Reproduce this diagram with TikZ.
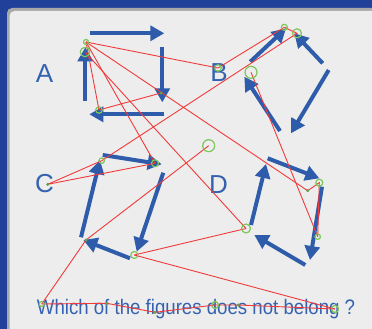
\documentclass[tikz,border=0pt]{standalone}
\usepackage{fontspec}
\setmainfont{Liberation Sans}
\usetikzlibrary{arrows.meta}
\definecolor{frameblue}{HTML}{20409A}
\definecolor{shadowgray}{HTML}{A8A8A8}
\definecolor{panelgray}{HTML}{EDEDED}
\definecolor{arrowblue}{HTML}{2E5CAA}
\definecolor{labelblue}{HTML}{3462B0}
\definecolor{linered}{HTML}{F23A3A}
\definecolor{ptgreen}{HTML}{7DC85A}
\tikzset{
  barrow/.style={draw=arrowblue, line width=4pt, -{Triangle[length=14pt,width=15pt]}},
  rline/.style={draw=linered, line width=0.9pt},
  gc/.style={circle, draw=ptgreen, line width=0.9pt, inner sep=0pt, minimum size=#1},
  gdot/.style={circle, fill=ptgreen!80!black, inner sep=0pt, minimum size=3pt},
  letter/.style={text=labelblue, font=\fontsize{26}{30}\selectfont, inner sep=0pt},
}
\begin{document}
\begin{tikzpicture}[x=1pt,y=-1pt]
\useasboundingbox (0,0) rectangle (372,329);
% frame
\fill[frameblue] (0,0) rectangle (372,329);
\fill[shadowgray, rounded corners=5pt] (7,8) rectangle (380,340);
\fill[panelgray, rounded corners=5pt] (9.5,11) rectangle (380,340);

% labels
\node[letter] (LA) at (44.5,74) {A};
\node[letter] (LB) at (219,72.5) {B};
\node[letter] (LC) at (44.5,184) {C};
\node[letter] (LD) at (218.5,185) {D};
\node[anchor=base west, text=labelblue, inner sep=0pt, font=\fontsize{21}{25}\selectfont] (Q) at (36.7,314.3)
  {\scalebox{0.888}[1]{Which of the figures does not belong ?}};

% arrow end points
\coordinate (A1s) at (89.7,33.3);  \coordinate (A1e) at (164.3,33.3);
\coordinate (A2s) at (162.3,46.7); \coordinate (A2e) at (162.3,102.3);
\coordinate (A3s) at (164.3,114.3);\coordinate (A3e) at (89.3,114.3);
\coordinate (A4s) at (85.3,100.7); \coordinate (A4e) at (85.3,47.3);
\coordinate (B1s) at (250.3,61.7); \coordinate (B1e) at (286,28.3);
\coordinate (B2s) at (322.7,63.3); \coordinate (B2e) at (294.3,33.3);
\coordinate (B3s) at (328.7,70);   \coordinate (B3e) at (291,133.3);
\coordinate (B4s) at (280,131);    \coordinate (B4e) at (244.3,76.7);
\coordinate (C1s) at (102.7,155);  \coordinate (C1e) at (161.7,164.3);
\coordinate (C2s) at (163.3,172.7);\coordinate (C2e) at (136.7,251.7);
\coordinate (C3s) at (130,258.3);  \coordinate (C3e) at (83.3,240);
\coordinate (C4s) at (81,237.3);   \coordinate (C4e) at (100,160);
\coordinate (D1s) at (267.7,158.3);\coordinate (D1e) at (319.3,178.3);
\coordinate (D2s) at (322,186.7);  \coordinate (D2e) at (310,260);
\coordinate (D3s) at (305.3,265);  \coordinate (D3e) at (254.3,235);
\coordinate (D4s) at (251,225);    \coordinate (D4e) at (266,164);

\foreach \p in {A1,A2,A3,A4,B1,B2,B3,B4,C1,C2,C3,C4,D1,D2,D3,D4}
  \draw[barrow] (\p s) -- (\p e);

% points
\node[gc=5pt]  (a1) at (86,42) {};
\node[gc=9.5pt](a2) at (85,52) {};
\node[gdot]    (a3) at (161,93) {};
\node[gc=6.5pt](a4) at (99,110) {};
\node[gc=6.5pt](b1) at (218,68) {};
\node[gc=6pt]  (b2) at (284.3,27.3) {};
\node[gc=9pt]  (b3) at (297,33.3) {};
\node[gc=12pt] (b4) at (251,72.3) {};
\node[gdot]    (c1) at (47.7,184.3) {};
\node[gc=5.5pt](c2) at (101.7,160.7) {};
\node[gc=7pt]  (c3) at (155,163.3) {};
\node[gdot]    (c4) at (86,240) {};
\node[gc=7pt]  (c5) at (134.3,255) {};
\node[gc=12pt] (g1) at (208.7,145.7) {};
\node[gc=9pt]  (d1) at (246,228.5) {};
\node[gdot]    (d2) at (307.7,190.7) {};
\node[gc=7pt]  (d3) at (319.3,182.7) {};
\node[gc=5.5pt](d4) at (317.7,236.7) {};
\node[gc=5pt]  (t1) at (41.7,304) {};
\node[gdot]    (t2) at (106.7,303.3) {};
\node[gdot]    (t3) at (155,312.3) {};
\node[gc=7pt]  (t4) at (215,305) {};
\node[gdot]    (t5) at (238.3,305) {};
\node[gc=7pt]  (t6) at (335,309) {};

% red lines
\draw[rline] (a1.center) -- (b1.center);
\draw[rline] (a1.center) -- (d2.center);
\draw[rline] (a1.center) -- (c3.center);
\draw[rline] (a1.center) -- (a4.center);
\draw[rline] (a2.center) -- (d1.center);
\draw[rline] (a3.center) -- (a4.center);
\draw[rline] (b1.center) -- (b2.center) -- (b3.center) -- (c2.center);
\draw[rline] (b4.center) -- (d4.center);
\draw[rline] (d2.center) -- (d3.center) -- (d4.center);
\draw[rline] (c1.center) -- (c2.center);
\draw[rline] (c1.center) -- (c3.center);
\draw[rline] (g1.center) -- (c4.center) -- (t1.center);
\draw[rline] (c5.center) -- (d1.center);
\draw[rline] (c5.center) -- (t6.center);
\draw[rline] (t1.center) -- (t2.center) -- (t3.center) -- (t4.center) -- (t5.center) -- (t6.center);

% redraw point markers on top
\foreach \n/\s in {a1/5pt,a2/9.5pt,a4/6.5pt,b1/6.5pt,b2/6pt,b3/9pt,b4/12pt,c2/5.5pt,c3/7pt,c5/7pt,g1/12pt,d1/9pt,d3/7pt,d4/5.5pt,t1/5pt,t4/7pt,t6/7pt}
  \draw[ptgreen, line width=0.9pt] (\n.center) circle[radius=\s/2];
\foreach \n in {a3,c1,c4,d2,t2,t3,t5}
  \fill[ptgreen!80!black] (\n.center) circle[radius=1.5pt];
\end{tikzpicture}
\end{document}
